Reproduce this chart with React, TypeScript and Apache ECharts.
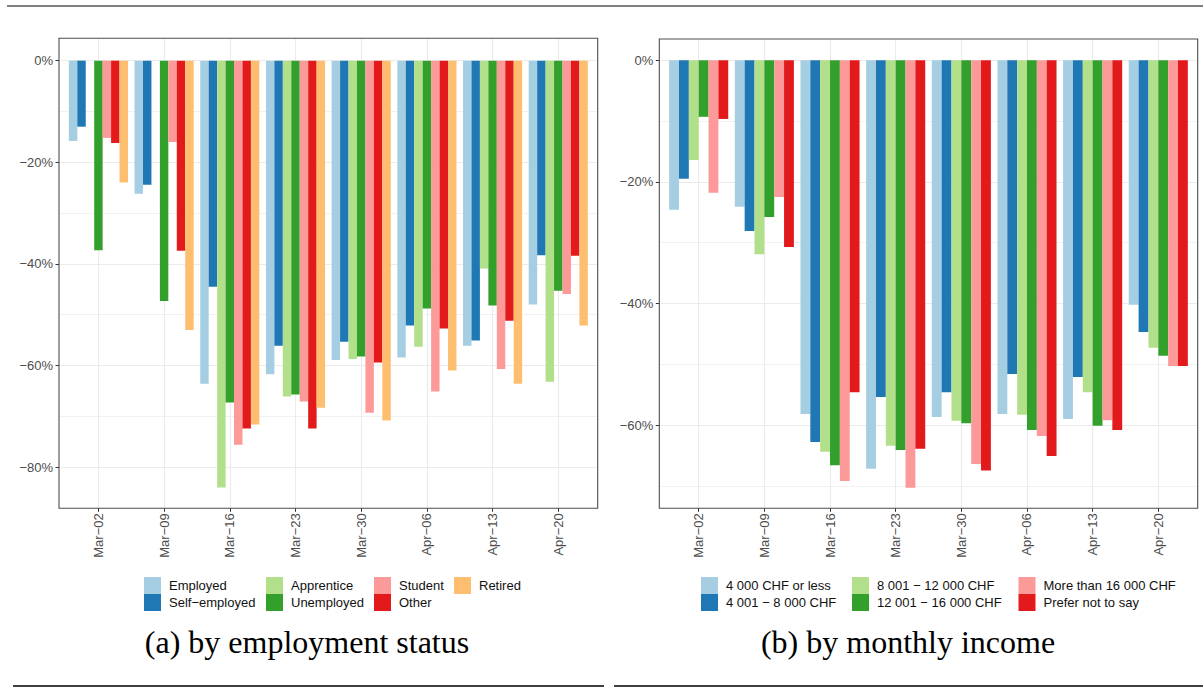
import React, { useEffect, useRef } from "react";
import * as echarts from "echarts";

const weeks = ["Mar−02", "Mar−09", "Mar−16", "Mar−23", "Mar−30", "Apr−06", "Apr−13", "Apr−20"];

// (a) by employment status, % change
const empNames = ["Employed", "Self−employed", "Apprentice", "Unemployed", "Student", "Other", "Retired"];
const employed = [-15.8, -26.2, -63.6, -61.7, -58.9, -58.4, -56.1, -48.0];
const selfEmployed = [-13.0, -24.4, -44.5, -56.1, -55.3, -52.1, -55.1, -38.3];
const apprentice = [null, null, -84.0, -66.1, -58.7, -56.3, -40.9, -63.2];
const unemployed = [-37.3, -47.3, -67.3, -65.7, -58.2, -48.8, -48.2, -45.3];
const student = [-15.2, -16.0, -75.6, -67.1, -69.3, -65.1, -60.7, -45.9];
const other = [-16.2, -37.4, -72.4, -72.4, -59.4, -52.7, -51.2, -38.4];
const retired = [-24.0, -53.0, -71.6, -68.3, -70.8, -61.0, -63.6, -52.1];

// (b) by monthly income, % change
const incNames = ["4 000 CHF or less", "4 001 − 8 000 CHF", "8 001 − 12 000 CHF", "12 001 − 16 000 CHF", "More than 16 000 CHF", "Prefer not to say"];
const inc4000 = [-24.6, -24.1, -58.2, -67.2, -58.7, -58.2, -59.0, -40.2];
const inc8000 = [-19.5, -28.1, -62.8, -55.4, -54.6, -51.6, -52.1, -44.7];
const inc12000 = [-16.4, -31.9, -64.4, -63.4, -59.3, -58.3, -54.6, -47.3];
const inc16000 = [-9.3, -25.8, -66.6, -64.1, -59.7, -60.8, -60.1, -48.6];
const incMore = [-21.8, -22.5, -69.2, -70.3, -66.4, -61.8, -59.2, -50.3];
const incPrefer = [-9.65, -30.7, -54.6, -63.9, -67.5, -65.1, -60.8, -50.3];

const yTicksA = [0, -20, -40, -60, -80];
const yTicksB = [0, -20, -40, -60];

const empColors = ["#A6CEE3", "#1F78B4", "#B2DF8A", "#33A02C", "#FB9A99", "#E31A1C", "#FDBF6F"];
const incColors = ["#A6CEE3", "#1F78B4", "#B2DF8A", "#33A02C", "#FB9A99", "#E31A1C"];

const SANS = "Liberation Sans, Arial, Helvetica, sans-serif";
const SERIF = "Liberation Serif, Times New Roman, serif";
const GRID_COLOR = "#EBEBEB";

const panels = [
  { left: 59, top: 38.3, width: 538.7, height: 470, ymin: -88.1, ymax: 4.4, yticks: yTicksA },
  { left: 659.3, top: 39, width: 538.4, height: 469.3, ymin: -73.7, ymax: 3.5, yticks: yTicksB },
];

const xIdx = weeks.map((_, i) => i);

function makeX(gridIndex: number) {
  return {
    type: "value",
    gridIndex,
    position: "bottom",
    min: -0.6,
    max: 7.6,
    minInterval: 1,
    maxInterval: 1,
    axisLine: { show: false, onZero: false },
    axisTick: { show: true, customValues: xIdx, length: 3.5, lineStyle: { color: "#333", width: 1 } },
    axisLabel: {
      customValues: xIdx,
      rotate: 90,
      margin: 5,
      fontSize: 13,
      fontFamily: SANS,
      color: "#4D4D4D",
      formatter: (v: number) => weeks[Math.round(v)] ?? "",
    },
    splitLine: { show: true, lineStyle: { color: GRID_COLOR, width: 1.1 } },
  };
}

function makeY(gridIndex: number, p: any) {
  return {
    type: "value",
    gridIndex,
    position: "left",
    min: p.ymin,
    max: p.ymax,
    minInterval: 20,
    maxInterval: 20,
    axisLine: { show: false, onZero: false },
    axisTick: { show: true, customValues: p.yticks, length: 3.5, lineStyle: { color: "#333", width: 1 } },
    axisLabel: {
      customValues: p.yticks,
      margin: 6,
      fontSize: 13,
      fontFamily: SANS,
      color: "#4D4D4D",
      formatter: (v: number) => (v === 0 ? "0%" : "−" + Math.round(-v) + "%"),
    },
    splitLine: { show: true, lineStyle: { color: GRID_COLOR, width: 1.1 } },
    minorTick: { show: false, splitNumber: 2 },
    minorSplitLine: { show: true, lineStyle: { color: GRID_COLOR, width: 0.7 } },
  };
}

function barSeries(name: string, values: (number | null)[], color: string, axisIndex: number) {
  return {
    type: "bar",
    name,
    xAxisIndex: axisIndex,
    yAxisIndex: axisIndex,
    barGap: "0%",
    barCategoryGap: "10%",
    itemStyle: { color },
    data: values.map((v, i) => [i, v]),
  };
}

function legendCol(names: string[], left: number) {
  return {
    orient: "vertical",
    left,
    top: 577,
    padding: 0,
    itemGap: 0,
    itemWidth: 17,
    itemHeight: 17,
    icon: "rect",
    selectedMode: false,
    textStyle: { fontSize: 13, fontFamily: SANS, color: "#111", padding: [0, 0, 0, 3] },
    data: names,
  };
}

export default function App() {
  const ref = useRef<HTMLDivElement>(null);
  useEffect(() => {
    if (!ref.current) return;
    const chart = echarts.init(ref.current, undefined, { renderer: "svg" });
    const empData = [employed, selfEmployed, apprentice, unemployed, student, other, retired];
    const incData = [inc4000, inc8000, inc12000, inc16000, incMore, incPrefer];
    const series = [
      ...empNames.map((n, i) => barSeries(n, empData[i], empColors[i], 0)),
      ...incNames.map((n, i) => barSeries(n, incData[i], incColors[i], 1)),
    ];
    const option = {
      animation: false,
      backgroundColor: "#fff",
      grid: panels.map((p) => ({ left: p.left, top: p.top, width: p.width, height: p.height, containLabel: false })),
      xAxis: [makeX(0), makeX(1)],
      yAxis: [makeY(0, panels[0]), makeY(1, panels[1])],
      legend: [
        legendCol([empNames[0], empNames[1]], 144),
        legendCol([empNames[2], empNames[3]], 266),
        legendCol([empNames[4], empNames[5]], 374),
        legendCol([empNames[6]], 454),
        legendCol([incNames[0], incNames[1]], 701),
        legendCol([incNames[2], incNames[3]], 852),
        legendCol([incNames[4], incNames[5]], 1018.5),
      ],
      series,
      graphic: [
        { type: "line", shape: { x1: 7, y1: 6, x2: 1203, y2: 6 }, style: { stroke: "#808080", lineWidth: 2 } },
        { type: "line", shape: { x1: 13, y1: 686, x2: 604, y2: 686 }, style: { stroke: "#000", lineWidth: 1.3 } },
        { type: "line", shape: { x1: 614, y1: 686, x2: 1203, y2: 686 }, style: { stroke: "#000", lineWidth: 1.3 } },
        ...panels.map((p) => ({
          type: "rect",
          z: 100,
          shape: { x: p.left, y: p.top, width: p.width, height: p.height },
          style: { fill: "none", stroke: "#4D4D4D", lineWidth: 1.1 },
        })),
        {
          type: "text",
          x: 307,
          y: 642,
          style: { text: "(a) by employment status", align: "center", verticalAlign: "middle", fontSize: 32, fontFamily: SERIF, fill: "#000" },
        },
        {
          type: "text",
          x: 908,
          y: 642,
          style: { text: "(b) by monthly income", align: "center", verticalAlign: "middle", fontSize: 32, fontFamily: SERIF, fill: "#000" },
        },
      ],
    };
    chart.setOption(option as any);
    return () => chart.dispose();
  }, []);
  return <div ref={ref} style={{ position: "absolute", left: 0, top: 0, width: 1203, height: 693 }} />;
}
